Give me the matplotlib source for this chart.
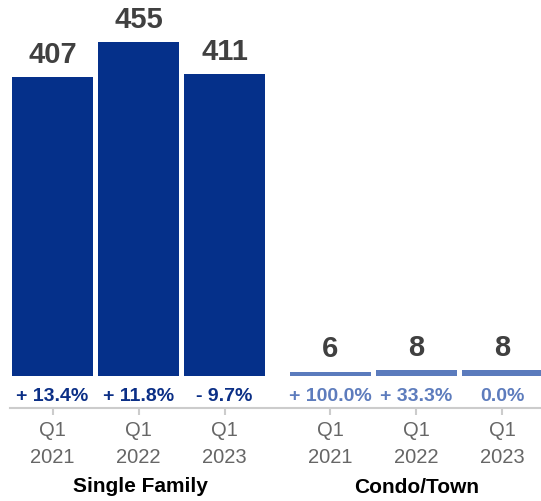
import matplotlib
matplotlib.use('Agg')
import matplotlib.pyplot as plt

plt.rcParams['font.family'] = ['Liberation Sans', 'DejaVu Sans']

# ── DATA ───────────────────────────────────────────────
groups = ["Single Family", "Condo/Town"]
periods = ["Q1\n2021", "Q1\n2022", "Q1\n2023"]
single_family = [407, 455, 411]
condo_town = [6, 8, 8]
sf_change = ["+ 13.4%", "+ 11.8%", "- 9.7%"]
ct_change = ["+ 100.0%", "+ 33.3%", "0.0%"]

# ── STYLE ──────────────────────────────────────────────
SF_BAR = "#05308a"
CT_BAR = "#5b7bbd"
SF_PCT = "#0b2f86"
CT_PCT = "#5d7cbd"
VALUE_TXT = "#404040"
TICK_TXT = "#666666"
AXIS_GREY = "#cccccc"

W, H = 541, 502
fig = plt.figure(figsize=(W / 100, H / 100), dpi=100)
fig.patch.set_facecolor('white')

axis_px = 409          # pixel row of the axis line
ax = fig.add_axes([0, (H - axis_px) / H, 1, axis_px / H])
ax.set_facecolor('white')

pitch = 86.0
x_sf = [0, 1, 2]
x_ct = [3.23, 4.23, 5.23]
bar_w = 81 / pitch

ax.set_xlim(-52.5 / pitch, (W - 52.5) / pitch)
ax.set_ylim(-43.6, 513.6)

ax.bar(x_sf, single_family, width=bar_w, color=SF_BAR)
ax.bar(x_ct, condo_town, width=bar_w, color=CT_BAR)

for xs, vals, pcts, pcol in [(x_sf, single_family, sf_change, SF_PCT),
                              (x_ct, condo_town, ct_change, CT_PCT)]:
    for x, v, p in zip(xs, vals, pcts):
        ax.annotate(f"{v}", xy=(x, v), xytext=(0, 11),
                    textcoords='offset points', ha='center', va='baseline',
                    fontsize=21, fontweight='bold', color=VALUE_TXT)
        ax.annotate(p, xy=(x, 0), xytext=(0, -14),
                    textcoords='offset points', ha='center', va='center',
                    fontsize=14, fontweight='bold', color=pcol)

# Axis line and ticks
for side in ['top', 'right', 'left']:
    ax.spines[side].set_visible(False)
ax.spines['bottom'].set_color(AXIS_GREY)
ax.spines['bottom'].set_linewidth(1.5)
ax.spines['bottom'].set_position(('axes', 0))
ax.spines['bottom'].set_bounds(-42.5 / pitch, (W - 52.5) / pitch)
ax.set_yticks([])
ax.set_xticks(x_sf + x_ct)
ax.set_xticklabels(periods * 2, fontsize=14.5, color=TICK_TXT, linespacing=1.5)
ax.tick_params(axis='x', length=5, width=1.5, color=AXIS_GREY, pad=4)

# Group labels
fig.text(140 / W, 1 - 487 / H, groups[0], ha='center', va='center',
         fontsize=15, fontweight='bold', color='black')
fig.text(417 / W, 1 - 488 / H, groups[1], ha='center', va='center',
         fontsize=15, fontweight='bold', color='black')

fig.savefig('out.png', dpi=100, facecolor=fig.get_facecolor())
plt.close(fig)
